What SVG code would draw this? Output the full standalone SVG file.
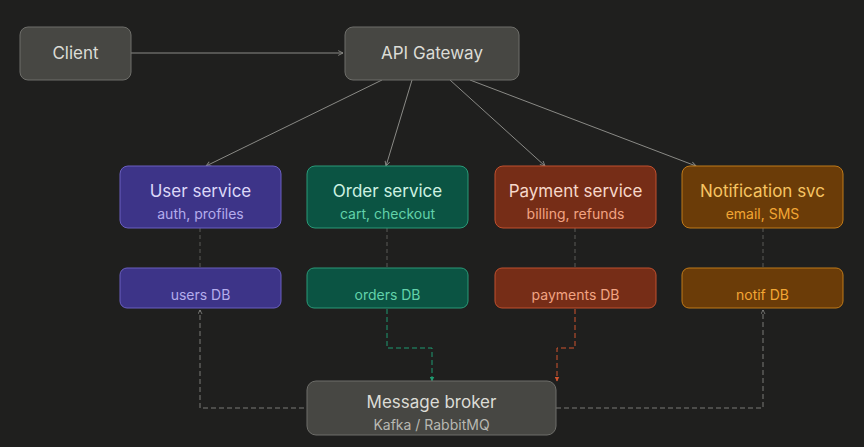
<svg xmlns="http://www.w3.org/2000/svg" width="864" height="447" viewBox="0 0 864 447">
<defs>
<marker id="ag" viewBox="0 0 10 10" refX="9" refY="5" markerWidth="6" markerHeight="6" orient="auto"><path d="M1,1 L9,5 L1,9" fill="none" stroke="#8a8a86" stroke-width="1.5"/></marker>
<marker id="ad" viewBox="0 0 10 10" refX="9" refY="5" markerWidth="5" markerHeight="5" orient="auto"><path d="M1,1 L9,5 L1,9" fill="none" stroke="#8a8a86" stroke-width="1.5"/></marker>
<marker id="agr" viewBox="0 0 10 10" refX="9" refY="5" markerWidth="5" markerHeight="5" orient="auto"><path d="M0,0 L10,5 L0,10z" fill="#1f9a70"/></marker>
<marker id="ar" viewBox="0 0 10 10" refX="9" refY="5" markerWidth="5" markerHeight="5" orient="auto"><path d="M0,0 L10,5 L0,10z" fill="#d0542e"/></marker>
</defs>
<style>
text{font-family:Inter,"Noto Sans",sans-serif;text-anchor:middle}
.t{font-size:17px}.s{font-size:14px}
.gray rect{fill:#474743;stroke:#6e6e6a}
.gray text{fill:#dcdcd6}
.u rect{fill:#3d3488;stroke:#6a5fc0}.u .t{fill:#dcd8f8}.u .s{fill:#b4acec}
.o rect{fill:#0b5443;stroke:#2a9a78}.o .t{fill:#cdf2e2}.o .s{fill:#62d2aa}
.p rect{fill:#762d17;stroke:#c0502e}.p .t{fill:#f7d8ca}.p .s{fill:#f2a482}
.n rect{fill:#6b3c08;stroke:#c07a18}.n .t{fill:#f7c462}.n .s{fill:#f2a634}
.c{fill:none;stroke-width:1}
</style>
<rect width="864" height="447" fill="#1f1f1e"/>
<g id="connectors" class="c">
<path d="M131,53 H343" stroke="#8a8a86" marker-end="url(#ag)"/>
<path d="M382,80 L206,166" stroke="#8a8a86" marker-end="url(#ag)"/>
<path d="M412,80 L386,166" stroke="#8a8a86" marker-end="url(#ag)"/>
<path d="M450,80 L545,166" stroke="#8a8a86" marker-end="url(#ag)"/>
<path d="M470,80 L696,166" stroke="#8a8a86" marker-end="url(#ag)"/>
<g stroke="#5a5a56" stroke-dasharray="4,3">
<path d="M200,228 V268"/><path d="M387,228 V268"/><path d="M575,228 V268"/><path d="M763,228 V268"/>
</g>
<path d="M387,309 V348 H432 V381" stroke="#1f9a70" stroke-dasharray="5,3" marker-end="url(#agr)"/>
<path d="M575,309 V348 H557 V381" stroke="#d0542e" stroke-dasharray="5,3" marker-end="url(#ar)"/>
<path d="M336,408 H200 V310" stroke="#7a7a76" stroke-dasharray="5,3" marker-end="url(#ad)"/>
<path d="M556,408 H763 V310" stroke="#7a7a76" stroke-dasharray="5,3" marker-end="url(#ad)"/>
</g>
<g id="client" class="gray"><rect x="20" y="27" width="111" height="53" rx="8"/><text x="75.5" y="59" class="t">Client</text></g>
<g id="gateway" class="gray"><rect x="345" y="27" width="174" height="53" rx="8"/><text x="432" y="59" class="t">API Gateway</text></g>
<g id="user" class="u"><rect x="120" y="166" width="161" height="62" rx="8"/><text x="200.5" y="197" class="t">User service</text><text x="200.5" y="219" class="s">auth, profiles</text></g>
<g id="order" class="o"><rect x="307" y="166" width="161" height="62" rx="8"/><text x="387.5" y="197" class="t">Order service</text><text x="387.5" y="219" class="s">cart, checkout</text></g>
<g id="payment" class="p"><rect x="495" y="166" width="161" height="62" rx="8"/><text x="575.5" y="197" class="t">Payment service</text><text x="575.5" y="219" class="s">billing, refunds</text></g>
<g id="notif" class="n"><rect x="682" y="166" width="161" height="62" rx="8"/><text x="762.5" y="197" class="t">Notification svc</text><text x="762.5" y="219" class="s">email, SMS</text></g>
<g id="usersdb" class="u"><rect x="120" y="268" width="161" height="40" rx="7"/><text x="200.5" y="300" class="s">users DB</text></g>
<g id="ordersdb" class="o"><rect x="307" y="268" width="161" height="40" rx="7"/><text x="387.5" y="300" class="s">orders DB</text></g>
<g id="paymentsdb" class="p"><rect x="495" y="268" width="161" height="40" rx="7"/><text x="575.5" y="300" class="s">payments DB</text></g>
<g id="notifdb" class="n"><rect x="682" y="268" width="161" height="40" rx="7"/><text x="762.5" y="300" class="s">notif DB</text></g>
<g id="broker" class="gray"><rect x="307" y="381" width="249" height="54" rx="9"/><text x="431.5" y="408" class="t">Message broker</text><text x="431.5" y="430" class="s" fill="#b8b8b2" style="fill:#b8b8b2">Kafka / RabbitMQ</text></g>
</svg>
